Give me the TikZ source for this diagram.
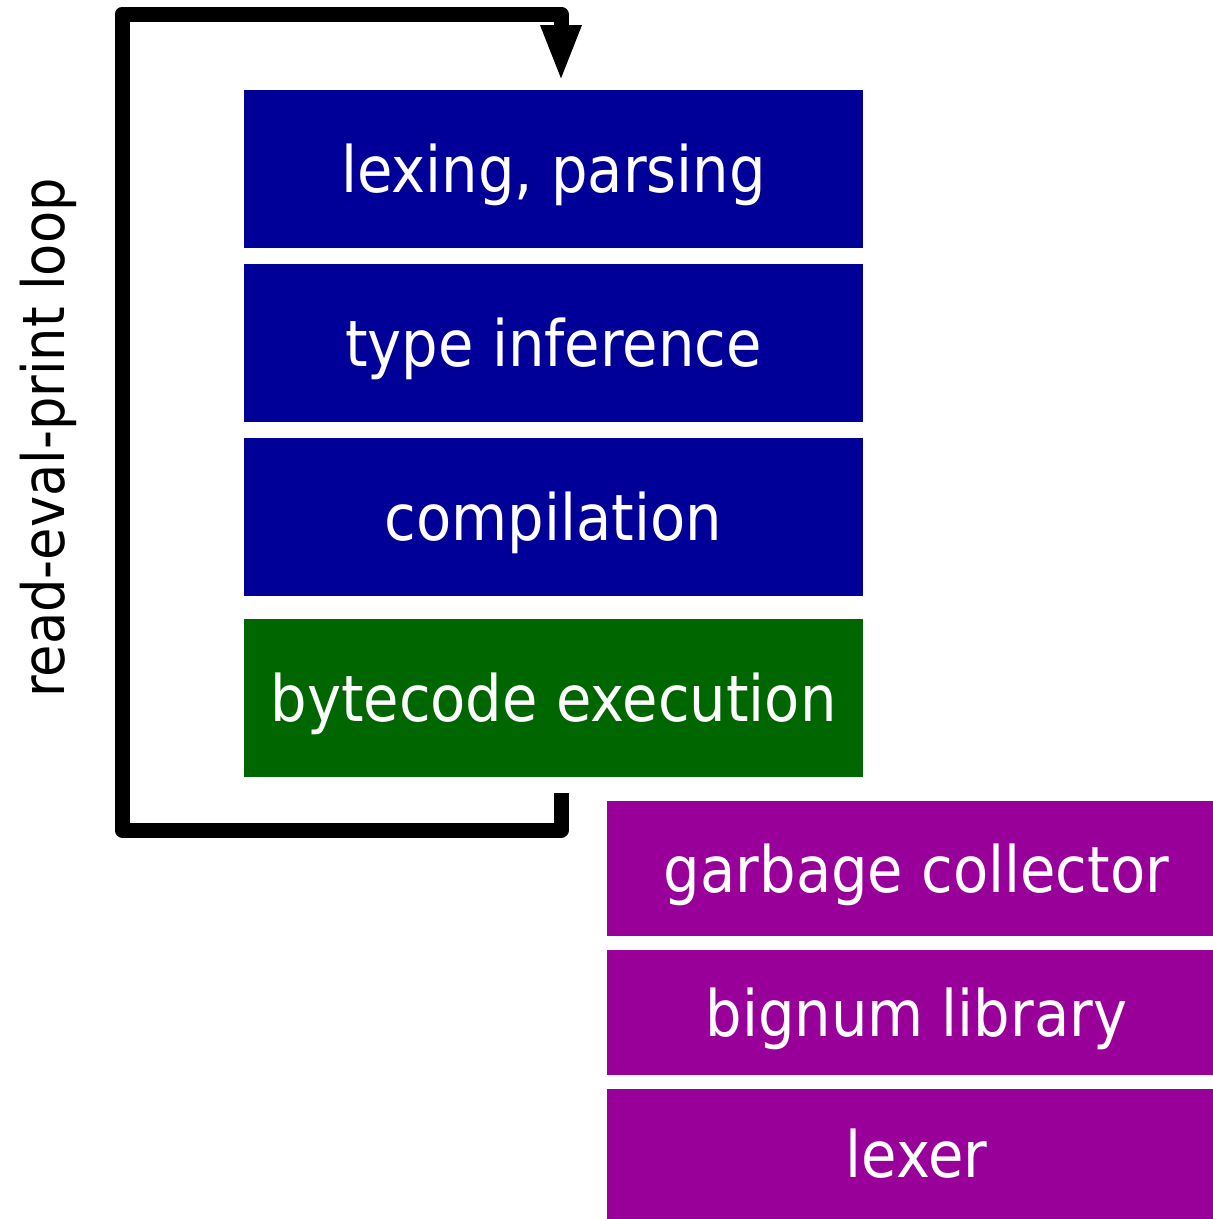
\documentclass[tikz,border=0pt]{standalone}
\usepackage{fontspec}
\setmainfont{DejaVu Sans Condensed}
\usetikzlibrary{arrows.meta}
\definecolor{stageblue}{RGB}{0,0,153}
\definecolor{stagegreen}{RGB}{0,102,0}
\definecolor{stagepurple}{RGB}{153,0,153}
\tikzset{
  stagebox/.style={rectangle, inner sep=0pt, outer sep=0pt, text=white,
    text height=47pt, text depth=0pt,
    font=\fontsize{64}{77}\selectfont},
  frontbox/.style={stagebox, fill=stageblue, minimum width=619pt, minimum height=158pt},
  execbox/.style={stagebox, fill=stagegreen, minimum width=619pt, minimum height=158pt},
  runtimebox/.style={stagebox, fill=stagepurple, minimum width=619pt},
  looppath/.style={line width=15pt, line join=round, line cap=butt,
    -{Triangle[width=37pt,length=57pt]}},
  looplabel/.style={font=\fontsize{58.5}{70}\selectfont, inner sep=0pt}
}
\begin{document}
\begin{tikzpicture}[x=1pt,y=-1pt]
\useasboundingbox (0,0) rectangle (1213,1219);
\node[frontbox] (lex) at (553.5,169) {lexing, parsing};
\node[frontbox] (types) at (553.5,343) {type inference};
\node[frontbox] (comp) at (553.5,517) {compilation};
\node[execbox] (exec) at (553.5,698) {bytecode execution};
\node[runtimebox, minimum height=135pt] (gc) at (916.5,868.5) {garbage collector};
\node[runtimebox, minimum height=125pt] (bignum) at (916.5,1012.5) {bignum library};
\node[runtimebox, minimum height=130pt] (lexer) at (916.5,1154) {lexer};
\coordinate (loopstart) at (561,793);
\coordinate (loopend) at (561,82);
\draw[looppath] (loopstart) -- (561,830) -- (122,830) -- (122,14) -- (561,14) -- (loopend);
\node[looplabel, rotate=90, anchor=base] (replabel) at (64,438) {read-eval-print loop};
\end{tikzpicture}
\end{document}
